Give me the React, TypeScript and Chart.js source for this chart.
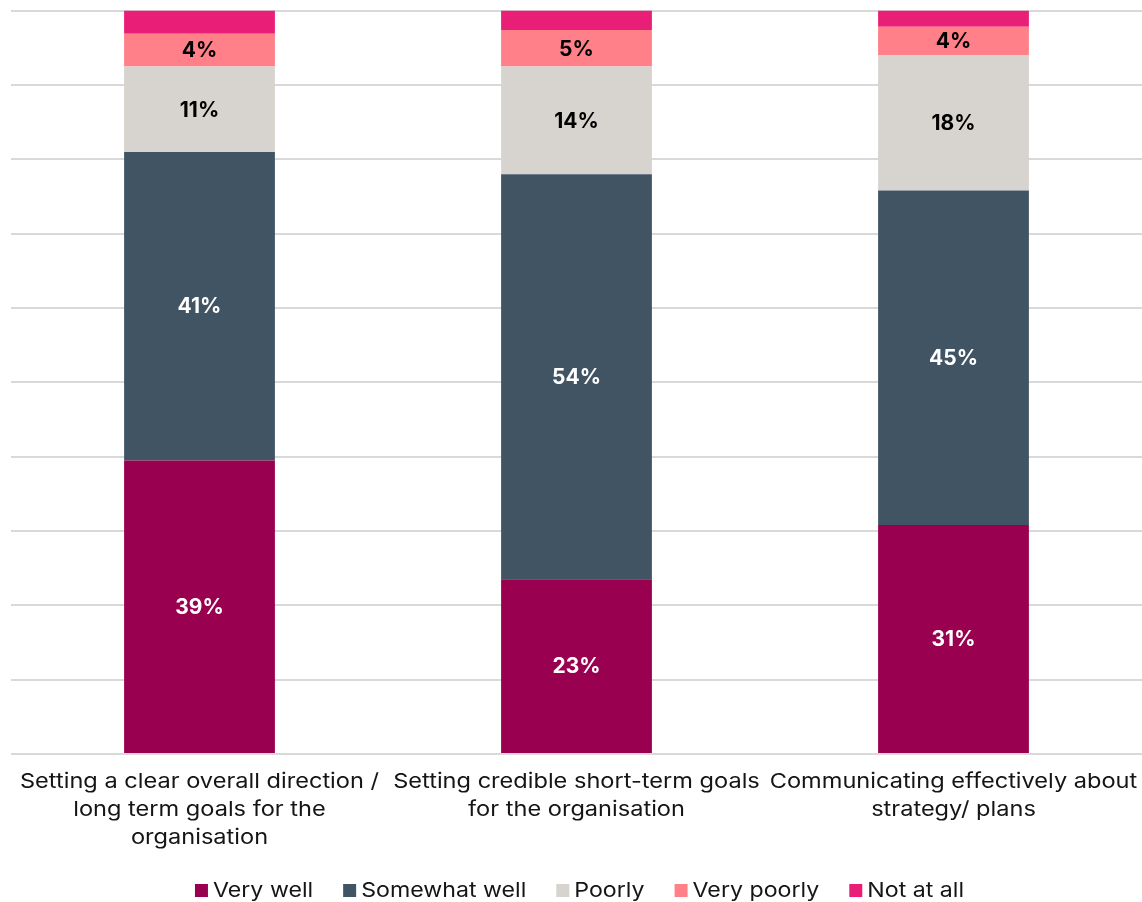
import React, { useEffect, useRef } from "react";
import { Chart, registerables } from "chart.js";

Chart.register(...registerables);

const categories: string[][] = [
  ["Setting a clear overall direction /", "long term goals for the", "organisation"],
  ["Setting credible short-term goals", "for the organisation"],
  ["Communicating effectively about", "strategy/ plans"],
];

const seriesNames = ["Very well", "Somewhat well", "Poorly", "Very poorly", "Not at all"];
const veryWell = [39.49, 23.49, 30.8];
const somewhatWell = [41.49, 54.49, 45.0];
const poorly = [11.49, 14.49, 18.2];
const veryPoorly = [4.4, 4.9, 3.8];
const notAtAll = [3.13, 2.63, 2.2];

const colors = ["#9A0050", "#415464", "#D7D3CE", "#FF8088", "#E91E76"];
const labelColors = ["#ffffff", "#ffffff", "#000000", "#000000", null];

const FONT = "Inter, 'Noto Sans', sans-serif";
const TEXT_COLOR = "#151515";
const STRETCH = 1.15;
const LEGEND_STRETCH = 1.13;

const dataLabelPlugin = {
  id: "segLabels",
  afterDatasetsDraw(chart: any) {
    const ctx = chart.ctx;
    ctx.save();
    ctx.font = `bold 21px ${FONT}`;
    ctx.textAlign = "center";
    ctx.textBaseline = "middle";
    chart.data.datasets.forEach((ds: any, di: number) => {
      const col = labelColors[di];
      if (!col) return;
      const meta = chart.getDatasetMeta(di);
      meta.data.forEach((el: any, i: number) => {
        const v = ds.data[i];
        const y = (el.y + el.base) / 2;
        ctx.fillStyle = col;
        ctx.fillText(`${Math.round(v)}%`, el.x, y + 1);
      });
    });
    ctx.restore();
  },
};

const categoryLabelPlugin = {
  id: "catLabels",
  afterDraw(chart: any) {
    const ctx = chart.ctx;
    const xScale = chart.scales.x;
    const bottom = chart.chartArea.bottom;
    ctx.save();
    ctx.font = `20.5px ${FONT}`;
    ctx.fillStyle = TEXT_COLOR;
    ctx.textAlign = "center";
    ctx.textBaseline = "middle";
    (chart.data.labels as string[][]).forEach((lines, i) => {
      const cx = xScale.getPixelForValue(i);
      lines.forEach((line, li) => {
        const cy = bottom + 28 + li * 28;
        ctx.save();
        ctx.translate(cx, cy);
        ctx.scale(STRETCH, 1);
        ctx.fillText(line, 0, 0);
        ctx.restore();
      });
    });
    ctx.restore();
  },
};

const legendPlugin = {
  id: "customLegend",
  afterDraw(chart: any) {
    const ctx = chart.ctx;
    ctx.save();
    ctx.font = `20.5px ${FONT}`;
    ctx.textBaseline = "middle";
    ctx.textAlign = "left";
    const box = 13;
    const gapBoxText = 5;
    const gapItems = 30;
    const items = chart.data.datasets.map((ds: any) => ({
      label: ds.label as string,
      color: ds.backgroundColor as string,
      w: ctx.measureText(ds.label).width * LEGEND_STRETCH,
    }));
    const total =
      items.reduce((s: number, it: any) => s + box + gapBoxText + it.w, 0) +
      gapItems * (items.length - 1);
    const centerX = 579.5;
    const cy = 890.5;
    let x = centerX - total / 2;
    items.forEach((it: any) => {
      ctx.fillStyle = it.color;
      ctx.fillRect(x, cy - box / 2, box, box);
      x += box + gapBoxText;
      ctx.save();
      ctx.translate(x, cy);
      ctx.scale(LEGEND_STRETCH, 1);
      ctx.fillStyle = TEXT_COLOR;
      ctx.fillText(it.label, 0, 0);
      ctx.restore();
      x += it.w + gapItems;
    });
    ctx.restore();
  },
};

export default function App() {
  const ref = useRef<HTMLCanvasElement>(null);
  useEffect(() => {
    document.body.style.margin = "0";
    const series = [veryWell, somewhatWell, poorly, veryPoorly, notAtAll];
    const chart = new Chart(ref.current as HTMLCanvasElement, {
      type: "bar",
      data: {
        labels: categories,
        datasets: series.map((d, i) => ({
          label: seriesNames[i],
          data: d,
          backgroundColor: colors[i],
          borderWidth: 0,
          categoryPercentage: 1,
          barPercentage: 0.4,
        })),
      },
      options: {
        animation: false,
        responsive: false,
        maintainAspectRatio: false,
        layout: { padding: { top: 10.5, left: 11, right: 0, bottom: 140 } },
        scales: {
          x: {
            stacked: true,
            grid: { display: false },
            border: { display: false },
            ticks: { display: false },
          },
          y: {
            stacked: true,
            min: 0,
            max: 100,
            grid: { color: "#d9d9d9", lineWidth: 2, drawTicks: false },
            border: { display: false },
            ticks: { display: false, stepSize: 10 },
          },
        },
        plugins: {
          legend: { display: false },
          tooltip: { enabled: false },
        },
      },
      plugins: [dataLabelPlugin, categoryLabelPlugin, legendPlugin],
    });
    return () => chart.destroy();
  }, []);
  return (
    <div style={{ width: 1142, height: 902 }}>
      <canvas ref={ref} width={1142} height={902} />
    </div>
  );
}
